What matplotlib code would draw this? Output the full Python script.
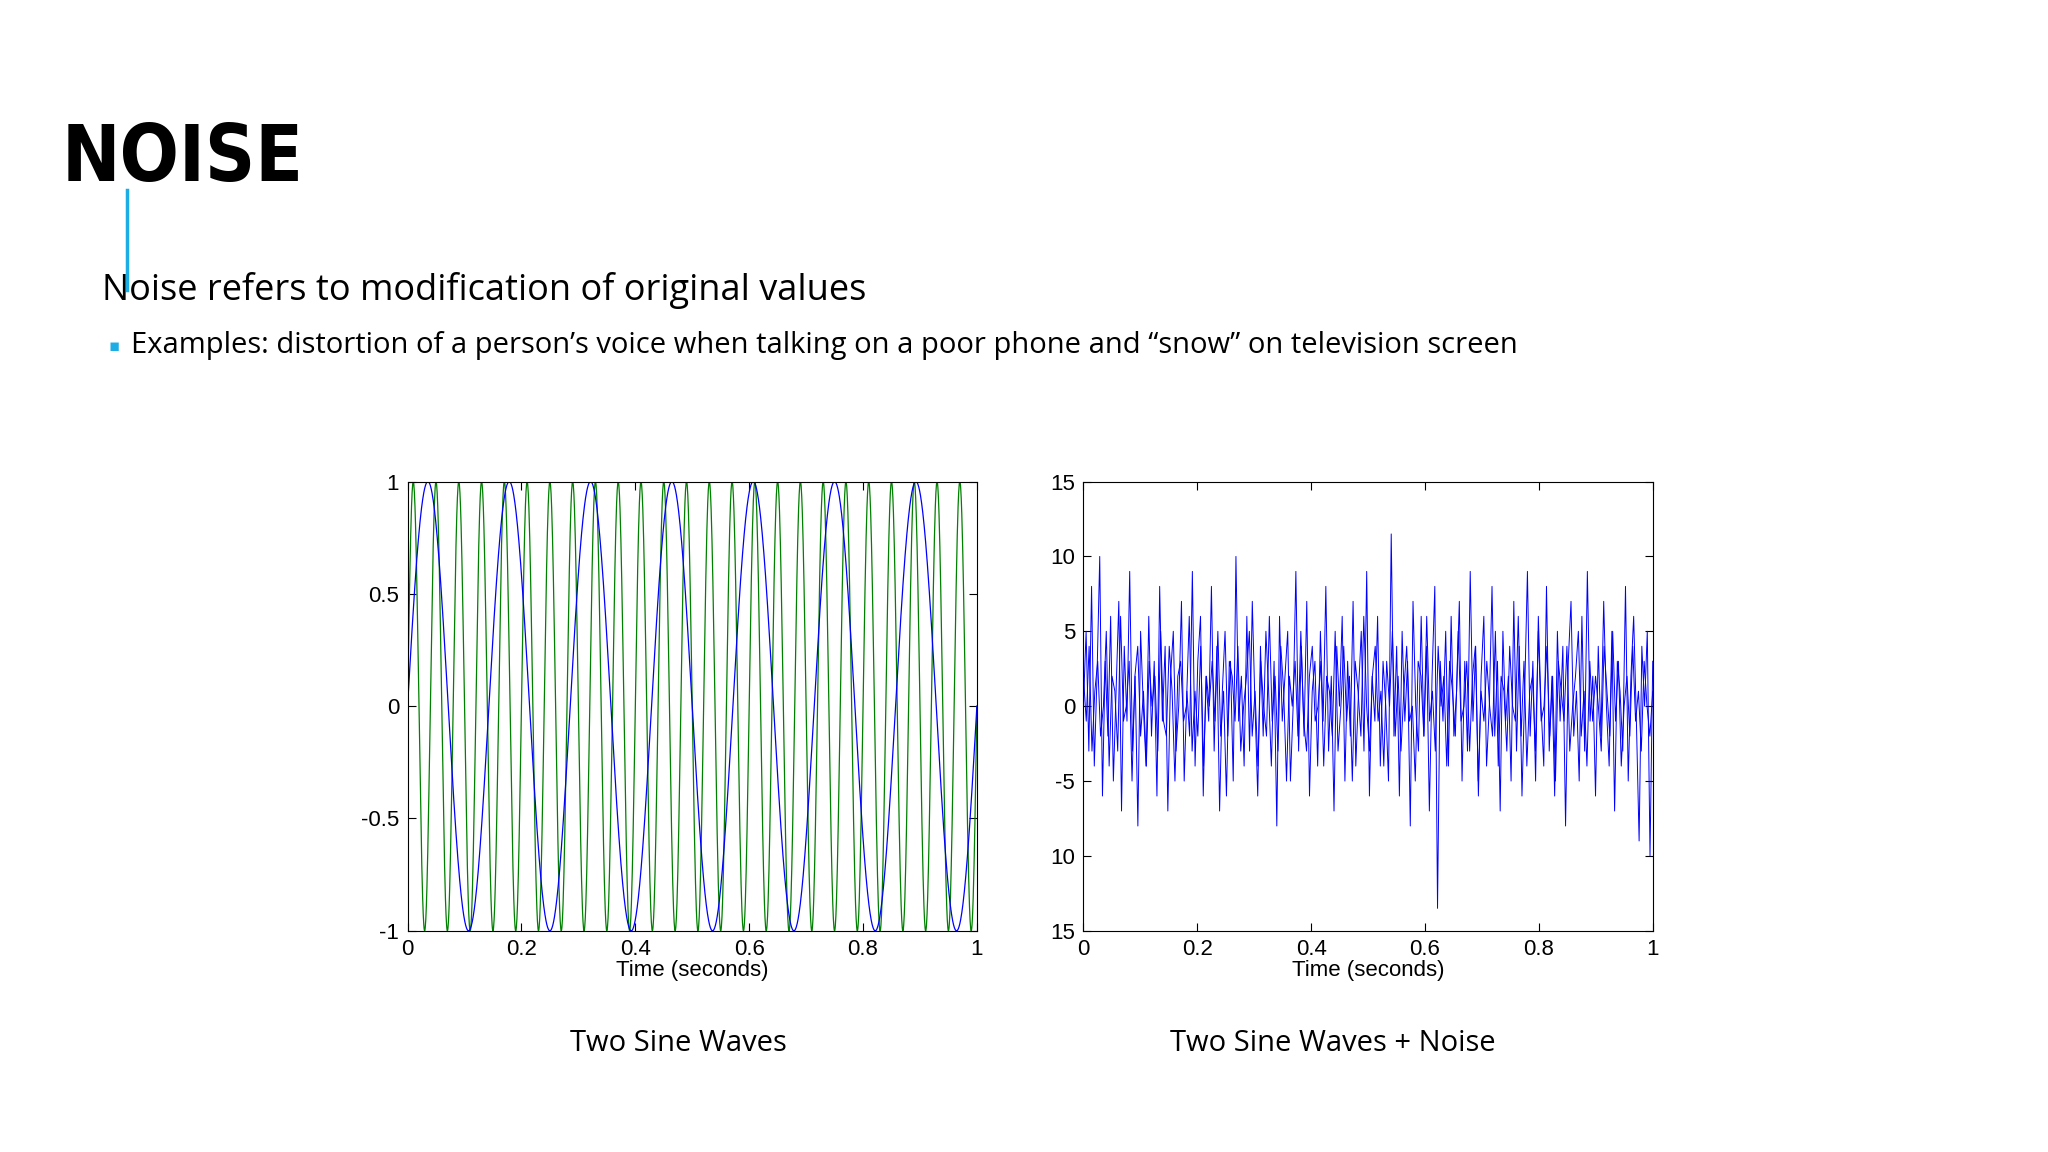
import numpy as np
import matplotlib.pyplot as plt

# signal parameters
freq_blue = 7      # Hz
freq_green = 25    # Hz
t = np.linspace(0, 1, 2000)

# noisy signal samples (estimated by eye)
noisy = [0, 5, -3, 8, -4, 2, 10, -6, 3, -2, 6, -5, 1, 7, -7, 4, -1, 9, -3, 2,
         -8, 5, 0, -4, 6, -2, 3, -6, 8, -1, 4, -7, 2, 5, -3, 0, 7, -5, 1, -2,
         9, -4, 3, 6, -6, 2, -1, 8, -3, 4, -7, 1, 5, -2, 3, -5, 10, -1, 2, -4,
         6, -3, 7, 0, -6, 4, -2, 5, 1, -4, 3, -8, 6, -1, 2, 5, -5, 0, 9, -3,
         4, -2, 7, -6, 1, 3, -4, 5, -1, 8, -3, 2, -7, 4, 0, 6, -5, 3, -2, 7,
         -4, 1, 5, -3, 9, -6, 2, -1, 6, -4, 3, 0, -5, 11.5, -2, 4, -6, 5, -1, 3,
         -8, 7, 0, -3, 6, -2, 4, -7, 2, 8, -13.5, 3, -1, 5, -4, 6, -2, 1, 7, -5,
         3, -3, 9, -1, 4, -6, 2, 6, -4, 0, 8, -2, 3, -7, 5, -1, 2, -5, 7, -3,
         4, -6, 1, 9, -2, 3, -5, 6, 0, -4, 8, -3, 2, -6, 5, -1, 4, -8, 3, 7,
         -2, 1, -5, 6, -3, 9, -1, 2, -6, 4, -2, 7, 0, -4, 5, -7, 3, 1, -3, 8,
         -5, 2, 6, -1, -9, 4, 0, 5, -10, 3]
noisy_extra = [2, -1, 4, -3, 1, 3, -2, 0, 5, -4, 2, 1, -3, 6, -1, 0, 3, -5, 2, 4,
               -2, 1, -4, 3, 0, 2, -3, 5, -1, -2, 4, 1, -5, 2, 3, -1, 0, 6, -3, 1,
               -2, 4, -4, 2, 0, 3, -1, 5, -2, 1, -6, 3, 2, -1, 4, -3, 0, 2, 5, -2,
               1, -4, 3, 0, -2, 6, -1, 2, -3, 4, 1, -5, 2, 0, 3, -2, 5, -1, -3, 2,
               4, -1, 0, 3, -4, 2, 1, -2, 5, -3, 0, 4, -1, 2, -5, 3, 1, -2, 6, 0,
               -3, 2, 4, -1, 1, -4, 3, 0, 5, -2, 2, -3, 1, 4, -1, 0, -5, 3, 2, -2,
               6, -1, 1, -3, 4, 0, 2, -4, 3, 1, -2, 5, -1, 0, 3, -3, 2, 4, -5, 1,
               -1, 3, 0, -2, 5, -4, 2, 1, -3, 4, 0, -1, 6, -2, 3, -4, 1, 2, -3, 5,
               -1, 0, 4, -2, 2, -5, 3, 1, -1, 4, -3, 0, 2, 5, -2, 1, -4, 3, -1, 2,
               0, -3, 4, 1, -2, 5, -1, 3, -4, 0, 2, -2, 4, -1, 1, -3, 3, 0, -2, 1]
noisy_t = np.linspace(0, 1, len(noisy))
noisy_extra_t = np.linspace(0, 1, len(noisy_extra))

left_xticks = [0, 0.2, 0.4, 0.6, 0.8, 1]
left_xlabels = ['0', '0.2', '0.4', '0.6', '0.8', '1']
left_yticks = [-1, -0.5, 0, 0.5, 1]
left_ylabels = ['-1', '-0.5', '0', '0.5', '1']
right_yticks = [-15, -10, -5, 0, 5, 10, 15]
right_ylabels = ['15', '10', '-5', '0', '5', '10', '15']

fig = plt.figure(figsize=(20.48, 11.52), dpi=100)
tick_font = 'Liberation Sans'
text_font = 'Open Sans'

fig.text(0.030, 0.862, 'NOISE', fontsize=56, fontweight='bold',
         family='DejaVu Sans', fontstretch='condensed', va='center')
fig.add_artist(plt.Line2D([0.0619, 0.0619], [0.748, 0.835], color='#1CADE4', lw=2.5))
fig.text(0.0497, 0.748, 'Noise refers to modification of original values',
         fontsize=26, family=text_font, va='center')
fig.text(0.053, 0.700, '▪', fontsize=12, color='#1CADE4', va='center')
fig.text(0.064, 0.700,
         'Examples: distortion of a person\u2019s voice when talking on a poor phone and \u201csnow\u201d on television screen',
         fontsize=21, family=text_font, va='center')


def style(ax):
    ax.tick_params(direction='in', top=True, right=True, labelsize=16, length=6, pad=6)
    for lab in ax.get_xticklabels() + ax.get_yticklabels():
        lab.set_family(tick_font)
    ax.set_xlabel('Time (seconds)', fontsize=16, family=tick_font, labelpad=0)


ax1 = fig.add_axes([0.199, 0.192, 0.278, 0.390])
ax1.plot(t, np.sin(2 * np.pi * freq_green * t), color='#008000', lw=0.9)
ax1.plot(t, np.sin(2 * np.pi * freq_blue * t), color='#0000FF', lw=0.9)
ax1.set_xlim(0, 1)
ax1.set_ylim(-1, 1)
ax1.set_xticks(left_xticks, left_xlabels)
ax1.set_yticks(left_yticks, left_ylabels)
style(ax1)

ax2 = fig.add_axes([0.529, 0.192, 0.278, 0.390])
ax2.plot(noisy_extra_t, noisy_extra, color='#0000FF', lw=0.7)
ax2.plot(noisy_t, noisy, color='#0000FF', lw=0.7)
ax2.set_xlim(0, 1)
ax2.set_ylim(-15, 15)
ax2.set_xticks(left_xticks, left_xlabels)
ax2.set_yticks(right_yticks, right_ylabels)
style(ax2)

fig.text(0.331, 0.088, 'Two Sine Waves', fontsize=21, family=text_font, ha='center')
fig.text(0.651, 0.088, 'Two Sine Waves + Noise', fontsize=21, family=text_font, ha='center')

fig.savefig('out.png', dpi=100, facecolor='white')
